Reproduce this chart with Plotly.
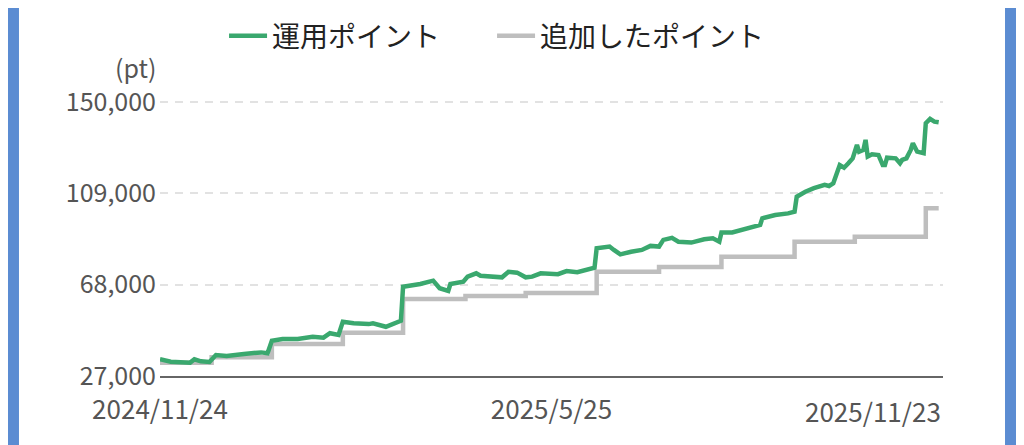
import plotly.graph_objects as go

# 運用ポイント (daily valuation)
green_dates = [
    '2024-11-24', '2024-11-29', '2024-12-08', '2024-12-10', '2024-12-13', '2024-12-17',
    '2024-12-20', '2024-12-25', '2025-01-02', '2025-01-10', '2025-01-13', '2025-01-15',
    '2025-01-20', '2025-01-27', '2025-02-03', '2025-02-08', '2025-02-11', '2025-02-15',
    '2025-02-17', '2025-02-22', '2025-03-01', '2025-03-03', '2025-03-09', '2025-03-14',
    '2025-03-16', '2025-03-17', '2025-03-25', '2025-03-31', '2025-04-03', '2025-04-07',
    '2025-04-08', '2025-04-14', '2025-04-16', '2025-04-20', '2025-04-22', '2025-05-02',
    '2025-05-05', '2025-05-09', '2025-05-13', '2025-05-16', '2025-05-20', '2025-05-28',
    '2025-06-01', '2025-06-06', '2025-06-11', '2025-06-14', '2025-06-15', '2025-06-21',
    '2025-06-23', '2025-06-26', '2025-07-01', '2025-07-06', '2025-07-10', '2025-07-14',
    '2025-07-16', '2025-07-20', '2025-07-23', '2025-07-29', '2025-08-04', '2025-08-08',
    '2025-08-11', '2025-08-12', '2025-08-17', '2025-08-21', '2025-08-26', '2025-08-30',
    '2025-08-31', '2025-09-06', '2025-09-12', '2025-09-15', '2025-09-16', '2025-09-20',
    '2025-09-24', '2025-09-29', '2025-10-01', '2025-10-03', '2025-10-06', '2025-10-08',
    '2025-10-10', '2025-10-12', '2025-10-14', '2025-10-15', '2025-10-17', '2025-10-18',
    '2025-10-19', '2025-10-21', '2025-10-24', '2025-10-26', '2025-10-27', '2025-10-28',
    '2025-11-01', '2025-11-03', '2025-11-04', '2025-11-06', '2025-11-08', '2025-11-09',
    '2025-11-11', '2025-11-14', '2025-11-15', '2025-11-17', '2025-11-19', '2025-11-21',
]
green_values = [
    34500, 33400, 33000, 34500, 33600, 33300,
    36400, 36000, 36900, 37600, 37200, 42800,
    43600, 43600, 44650, 44200, 46200, 45400,
    51400, 50700, 50300, 50700, 49100, 51400,
    51800, 67100, 68300, 69800, 66400, 65200,
    68300, 69300, 71600, 73100, 72000, 71300,
    73800, 73400, 71300, 71600, 73100, 72700,
    74100, 73600, 74600, 75600, 84300, 85100,
    83600, 81600, 82800, 83600, 85400, 85100,
    88100, 89000, 87300, 86900, 88400, 88800,
    87300, 91400, 91400, 92600, 94000, 94800,
    97800, 99300, 100000, 100800, 107500, 109700,
    111300, 112800, 112300, 113500, 121700, 120500,
    122500, 124700, 130700, 127700, 128500, 133000,
    125500, 126500, 126200, 121700, 121700, 125000,
    124700, 122500, 124000, 124700, 128500, 131500,
    127700, 127000, 140500, 142400, 141200, 140900,
]

# 追加したポイント (cumulative additions, step changes)
gray_dates = [
    '2024-11-24', '2024-12-18', '2025-01-15', '2025-02-17', '2025-03-17', '2025-04-15',
    '2025-05-13', '2025-06-15', '2025-07-14', '2025-08-12', '2025-09-15', '2025-10-13',
    '2025-11-15', '2025-11-21',
]
gray_values = [
    33000, 35400, 41400, 46400, 61600, 62900,
    64300, 73800, 75900, 80500, 87300, 89500,
    102300, 102300,
]

y_ticks = [27000, 68000, 109000, 150000]
x_ticks = ['2024-11-24', '2025-05-25']
x_ticktext = ['2024/11/24', '2025/5/25']
x_last_tick = '2025-11-23'
x_last_text = '2025/11/23'

green = 'rgb(58,168,110)'
gray = 'rgb(190,190,190)'
blue = 'rgb(91,140,210)'
font_family = 'Noto Sans CJK JP'

fig = go.Figure()

fig.add_trace(go.Scatter(
    x=gray_dates, y=gray_values,
    mode='lines', name='追加したポイント',
    line=dict(color=gray, width=4.5, shape='hv'),
    legendrank=2
))

fig.add_trace(go.Scatter(
    x=green_dates, y=green_values,
    mode='lines', name='運用ポイント',
    line=dict(color=green, width=4.5),
    legendrank=1
))

# last date label sits flush with the right end of the axis
fig.add_annotation(
    x=x_last_tick, y=0, xref='x', yref='paper',
    text=x_last_text, showarrow=False,
    xanchor='right', yanchor='top', yshift=-14,
    font=dict(family=font_family, size=26, color='#555')
)

# unit label above the y axis
fig.add_annotation(
    x=0, y=1, xref='paper', yref='paper',
    text='(pt)', showarrow=False,
    xanchor='right', yanchor='bottom', xshift=-2, yshift=11,
    font=dict(family=font_family, size=25, color='#555')
)

# blue page edges on both sides
for x0, x1 in [(-0.2, -0.1801), (1.0792, 1.11)]:
    fig.add_shape(type='rect', xref='paper', yref='paper',
                  x0=x0, x1=x1, y0=-0.5, y1=1.5,
                  fillcolor=blue, line=dict(width=0), layer='below')

fig.update_layout(
    width=1016, height=437,
    margin=dict(l=152, r=81, t=90, b=69, autoexpand=False),
    plot_bgcolor='white',
    paper_bgcolor='white',
    font=dict(family=font_family, size=26, color='#555'),
    legend=dict(
        orientation='h',
        x=0.0818, xanchor='left',
        y=1.223, yanchor='middle',
        font=dict(family=font_family, size=28, color='#222'),
        entrywidth=215,
        itemwidth=38,
        bgcolor='rgba(0,0,0,0)'
    ),
    xaxis=dict(
        type='date',
        range=['2024-11-24', '2025-11-23'],
        tickvals=x_ticks,
        ticktext=x_ticktext,
        showgrid=False,
        showline=True,
        linecolor='#666',
        linewidth=1.5,
        ticks='',
        ticklabelstandoff=10,
        tickfont=dict(size=26, color='#555'),
        zeroline=False
    ),
    yaxis=dict(
        range=[27000, 151800],
        tickvals=y_ticks,
        tickformat=',d',
        showgrid=True,
        gridcolor='#e2e2e2',
        gridwidth=2,
        griddash='8px,7px',
        showline=False,
        ticks='',
        ticklabelstandoff=3,
        tickfont=dict(size=25, color='#555'),
        zeroline=False
    ),
    showlegend=True
)

fig.write_html("out.html")
